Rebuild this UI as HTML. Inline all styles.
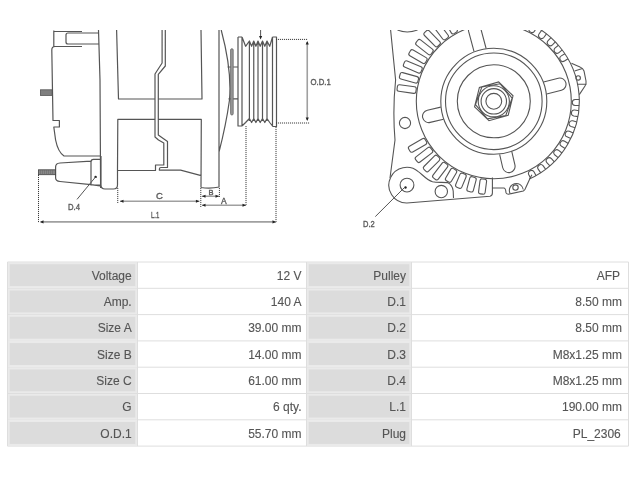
<!DOCTYPE html>
<html><head><meta charset="utf-8"><style>
html,body{margin:0;padding:0;background:#fff;width:640px;height:480px;overflow:hidden;position:relative}
</style></head><body>
<svg width="640" height="480" viewBox="0 0 640 480" style="position:absolute;left:0;top:0;will-change:transform"><g font-family="Liberation Sans, sans-serif" font-size="12" fill="#555"><rect x="8.00" y="262.50" width="129.00" height="25.30" fill="#eaeaea"/><rect x="9.70" y="264.20" width="125.60" height="21.90" fill="#dcdcdc"/><rect x="307.00" y="262.50" width="104.00" height="25.30" fill="#eaeaea"/><rect x="308.70" y="264.20" width="100.60" height="21.90" fill="#dcdcdc"/><rect x="8.00" y="288.80" width="129.00" height="25.30" fill="#eaeaea"/><rect x="9.70" y="290.50" width="125.60" height="21.90" fill="#dcdcdc"/><rect x="307.00" y="288.80" width="104.00" height="25.30" fill="#eaeaea"/><rect x="308.70" y="290.50" width="100.60" height="21.90" fill="#dcdcdc"/><rect x="8.00" y="315.10" width="129.00" height="25.30" fill="#eaeaea"/><rect x="9.70" y="316.80" width="125.60" height="21.90" fill="#dcdcdc"/><rect x="307.00" y="315.10" width="104.00" height="25.30" fill="#eaeaea"/><rect x="308.70" y="316.80" width="100.60" height="21.90" fill="#dcdcdc"/><rect x="8.00" y="341.40" width="129.00" height="25.30" fill="#eaeaea"/><rect x="9.70" y="343.10" width="125.60" height="21.90" fill="#dcdcdc"/><rect x="307.00" y="341.40" width="104.00" height="25.30" fill="#eaeaea"/><rect x="308.70" y="343.10" width="100.60" height="21.90" fill="#dcdcdc"/><rect x="8.00" y="367.70" width="129.00" height="25.30" fill="#eaeaea"/><rect x="9.70" y="369.40" width="125.60" height="21.90" fill="#dcdcdc"/><rect x="307.00" y="367.70" width="104.00" height="25.30" fill="#eaeaea"/><rect x="308.70" y="369.40" width="100.60" height="21.90" fill="#dcdcdc"/><rect x="8.00" y="394.00" width="129.00" height="25.30" fill="#eaeaea"/><rect x="9.70" y="395.70" width="125.60" height="21.90" fill="#dcdcdc"/><rect x="307.00" y="394.00" width="104.00" height="25.30" fill="#eaeaea"/><rect x="308.70" y="395.70" width="100.60" height="21.90" fill="#dcdcdc"/><rect x="8.00" y="420.30" width="129.00" height="25.30" fill="#eaeaea"/><rect x="9.70" y="422.00" width="125.60" height="21.90" fill="#dcdcdc"/><rect x="307.00" y="420.30" width="104.00" height="25.30" fill="#eaeaea"/><rect x="308.70" y="422.00" width="100.60" height="21.90" fill="#dcdcdc"/><path d="M7.5,262.0 V446.10 M137.5,262.0 V446.10 M306.5,262.0 V446.10 M411.5,262.0 V446.10 M628.5,262.0 V446.10 M7.5,262.00 H628.5 M7.5,288.30 H628.5 M7.5,314.60 H628.5 M7.5,340.90 H628.5 M7.5,367.20 H628.5 M7.5,393.50 H628.5 M7.5,419.80 H628.5 M7.5,446.10 H628.5" stroke="#dedede" stroke-width="1" fill="none"/><text x="131.7" y="279.80" text-anchor="end" stroke="#555" stroke-width="0.12">Voltage</text><text x="301.5" y="279.80" text-anchor="end" stroke="#555" stroke-width="0.12">12 V</text><text x="406" y="279.80" text-anchor="end" stroke="#555" stroke-width="0.12">Pulley</text><text x="620" y="279.80" text-anchor="end" stroke="#555" stroke-width="0.12">AFP</text><text x="131.7" y="306.10" text-anchor="end" stroke="#555" stroke-width="0.12">Amp.</text><text x="301.5" y="306.10" text-anchor="end" stroke="#555" stroke-width="0.12">140 A</text><text x="406" y="306.10" text-anchor="end" stroke="#555" stroke-width="0.12">D.1</text><text x="622" y="306.10" text-anchor="end" stroke="#555" stroke-width="0.12">8.50 mm</text><text x="131.7" y="332.40" text-anchor="end" stroke="#555" stroke-width="0.12">Size A</text><text x="301.5" y="332.40" text-anchor="end" stroke="#555" stroke-width="0.12">39.00 mm</text><text x="406" y="332.40" text-anchor="end" stroke="#555" stroke-width="0.12">D.2</text><text x="622" y="332.40" text-anchor="end" stroke="#555" stroke-width="0.12">8.50 mm</text><text x="131.7" y="358.70" text-anchor="end" stroke="#555" stroke-width="0.12">Size B</text><text x="301.5" y="358.70" text-anchor="end" stroke="#555" stroke-width="0.12">14.00 mm</text><text x="406" y="358.70" text-anchor="end" stroke="#555" stroke-width="0.12">D.3</text><text x="622" y="358.70" text-anchor="end" stroke="#555" stroke-width="0.12">M8x1.25 mm</text><text x="131.7" y="385.00" text-anchor="end" stroke="#555" stroke-width="0.12">Size C</text><text x="301.5" y="385.00" text-anchor="end" stroke="#555" stroke-width="0.12">61.00 mm</text><text x="406" y="385.00" text-anchor="end" stroke="#555" stroke-width="0.12">D.4</text><text x="622" y="385.00" text-anchor="end" stroke="#555" stroke-width="0.12">M8x1.25 mm</text><text x="131.7" y="411.30" text-anchor="end" stroke="#555" stroke-width="0.12">G</text><text x="301.5" y="411.30" text-anchor="end" stroke="#555" stroke-width="0.12">6 qty.</text><text x="406" y="411.30" text-anchor="end" stroke="#555" stroke-width="0.12">L.1</text><text x="622" y="411.30" text-anchor="end" stroke="#555" stroke-width="0.12">190.00 mm</text><text x="131.7" y="437.60" text-anchor="end" stroke="#555" stroke-width="0.12">O.D.1</text><text x="301.5" y="437.60" text-anchor="end" stroke="#555" stroke-width="0.12">55.70 mm</text><text x="406" y="437.60" text-anchor="end" stroke="#555" stroke-width="0.12">Plug</text><text x="620.8" y="437.60" text-anchor="end" stroke="#555" stroke-width="0.12">PL_2306</text></g></svg>
<svg width="640" height="250" viewBox="0 0 640 250" style="position:absolute;left:0;top:0;will-change:transform"><defs><clipPath id="cp"><rect x="0" y="30" width="640" height="220"/></clipPath><clipPath id="cpb"><path d="M380,100 H560 V183 L492.5,189.5 L400,199 Z"/></clipPath></defs><g clip-path="url(#cp)"><path d="M53.8,30.5 V46.5 M53.8,31.5 H82 M99,33 H68 Q66,33 66,35 V42 Q66,44 68,44 H99 M98.5,30 L100,80 L100.6,188 M82,46.5 H55 Q51.8,46.5 51.8,50 L53,120.5 H59.4 V127 H53.8 L55.6,140 Q58,152 64,156 H100 M91,161.2 L60,163 Q55.6,163.3 55.6,167 V178 Q55.6,181 60,181.5 L91,184.6 M100,159.4 H93.5 Q91,159.4 91,162 V185 H100 M91,184.6 L100,185.8 M101,156 V185 Q101,189 105,189 H113.5 Q117.5,189 117.5,185 V170.5 M116.6,30 L118.5,99 H155 M158,99 H202 L201,30 M155,119.4 H117.8 L117.5,170.5 H155.5 V165 H163.8 V143 L158.5,140 L155,137 V74 L162.1,63 V30 M158,119.4 H201.3 L201,187.5 M165.3,30 V66 L158.3,74.4 V135 L167.5,141.5 V167.5 H161 Q159.4,167.5 159.4,169 V170.2 H180.6 L201.2,175.6 M201,187.5 Q210,189 219.4,187 M219,30 L219,187 M221.2,30 Q232,70 229.5,100 Q226,125 219,152 M227.5,67 H238 M228.5,98.8 H238 M238,37 V126 H242 M238,37 H242 M272.5,37 H276.5 V126.5 H272.5 M242,37 V126 M272.5,37 V126.5 M249.4,42 V121 M253.75,42 V121 M258,42 V121 M262.5,42 V121 M267,42 V121 M242,37 L242,37 L245.6,46.3 L249.4,41 L251.6,46.3 L253.75,41 L255.9,46.3 L258,41 L260.2,46.3 L262.5,41 L264.8,46.3 L267,41 L269.7,46.3 L272.5,37  M242,126 L242,126 L245.6,122.5 L249.4,118.5 L251.6,122.5 L253.75,118.5 L255.9,122.5 L258,118.5 L260.2,122.5 L262.5,118.5 L264.8,122.5 L267,118.5 L269.7,122.5 L272.5,126 " fill="none" stroke="#555" stroke-width="1.2" stroke-linejoin="round"/><rect x="230.6" y="48.7" width="2.6" height="66.3" rx="1.3" fill="#999" stroke="#666" stroke-width="0.8"/><rect x="40.4" y="89.8" width="11.6" height="5.6" fill="#888" stroke="#555" stroke-width="0.8"/><path d="M42,90 V95.4 M44,90 V95.4 M46,90 V95.4 M48,90 V95.4 M50,90 V95.4" stroke="#666" stroke-width="0.5"/><rect x="38.4" y="169.8" width="17.2" height="4.9" fill="#888" stroke="#444" stroke-width="0.8"/><path d="M40.5,170 V174.5 M42.5,170 V174.5 M44.5,170 V174.5 M46.5,170 V174.5 M48.5,170 V174.5 M50.5,170 V174.5 M52.5,170 V174.5" stroke="#666" stroke-width="0.5"/><circle cx="95.6" cy="176.9" r="1.2" fill="#222"/><path d="M95.6,176.9 L77,199.4" stroke="#555" stroke-width="1"/><path d="M38.5,175 V223 M117.75,188 V203 M200.8,188 V207 M219.4,188 V197 M246,126 V206 M276,127 V223 M276,39.4 H307.5 M276,123 H309.5" stroke="#3a3a3a" stroke-width="1" stroke-dasharray="1.1,0.9" fill="none"/><path d="M40.6,221.9 H276 M120,201.25 H199.4 M202,196.25 H219 M202,205.25 H246 M307.25,42 V120" stroke="#a0a0a0" stroke-width="1.6" fill="none"/><path d="M260.6,30 V36" stroke="#555" stroke-width="1"/><path d="M40.00,221.90 L43.50,220.33 L43.50,223.47Z M120.00,201.25 L123.50,199.68 L123.50,202.82Z M199.40,201.25 L195.90,202.82 L195.90,199.68Z M202.00,196.25 L205.50,194.68 L205.50,197.82Z M219.00,196.25 L215.50,197.82 L215.50,194.68Z M202.00,205.25 L205.50,203.68 L205.50,206.82Z M246.00,205.25 L242.50,206.82 L242.50,203.68Z M276.00,221.90 L272.50,223.47 L272.50,220.33Z M307.25,41.00 L308.82,44.50 L305.68,44.50Z M307.25,121.00 L305.68,117.50 L308.82,117.50Z M260.60,39.50 L259.03,36.00 L262.18,36.00Z" fill="#222"/><text x="68" y="209.7" font-family="Liberation Sans, sans-serif" fill="#5a5a5a" stroke="#5a5a5a" stroke-width="0.35" font-size="9" textLength="12" lengthAdjust="spacingAndGlyphs">D.4</text><text x="156" y="198.8" font-family="Liberation Sans, sans-serif" fill="#5a5a5a" stroke="#5a5a5a" stroke-width="0.35" font-size="9.5">C</text><text x="151" y="217.5" font-family="Liberation Sans, sans-serif" fill="#5a5a5a" stroke="#5a5a5a" stroke-width="0.35" font-size="9" textLength="8.4" lengthAdjust="spacingAndGlyphs">L.1</text><text x="208.5" y="195" font-family="Liberation Sans, sans-serif" fill="#5a5a5a" stroke="#5a5a5a" stroke-width="0.35" font-size="7.5">B</text><text x="221" y="203.8" font-family="Liberation Sans, sans-serif" fill="#5a5a5a" stroke="#5a5a5a" stroke-width="0.35" font-size="8.5">A</text><text x="310.5" y="84.7" font-family="Liberation Sans, sans-serif" fill="#5a5a5a" stroke="#5a5a5a" stroke-width="0.35" font-size="9" textLength="20.3" lengthAdjust="spacingAndGlyphs">O.D.1</text><text x="363" y="227" font-family="Liberation Sans, sans-serif" fill="#5a5a5a" stroke="#5a5a5a" stroke-width="0.35" font-size="9" textLength="11.7" lengthAdjust="spacingAndGlyphs">D.2</text><g fill="none" stroke="#555" stroke-width="1.1"><circle cx="493.80" cy="101.30" r="7.9"/><circle cx="493.80" cy="101.30" r="12.7"/><circle cx="493.80" cy="101.30" r="15.6"/><circle cx="493.80" cy="101.30" r="36.5"/><circle cx="493.80" cy="101.30" r="48.3"/><circle cx="493.80" cy="101.30" r="53"/><path d="M498.64,81.89 L513.03,95.79 L508.19,115.19 L488.96,120.71 L474.57,106.81 L479.41,87.41Z M500.16,83.82 L512.12,98.07 L505.76,115.55 L487.44,118.78 L475.48,104.53 L481.84,87.05Z"/><circle cx="493.80" cy="101.30" r="77.5"/><path d="M486.12,48.49 L480.75,28.45 A6.25,6.25 0 0 0 468.68,31.68 L474.05,51.72 M546.68,94.08 L561.44,90.26 A6.25,6.25 0 0 0 558.31,78.16 L543.55,81.98 M440.75,107.13 L427.35,110.23 A6.25,6.25 0 0 0 430.17,122.41 L443.56,119.31 M499.63,154.35 L502.73,167.75 A6.25,6.25 0 0 0 514.91,164.93 L511.81,151.54"/><rect x="78.5" y="-3.3" width="19.0" height="6.6" rx="2" transform="translate(493.80,101.30) rotate(-172)"/><rect x="78.5" y="-3.3" width="19.0" height="6.6" rx="2" transform="translate(493.80,101.30) rotate(-164.5)"/><rect x="78.5" y="-3.3" width="19.0" height="6.6" rx="2" transform="translate(493.80,101.30) rotate(-157)"/><rect x="78.5" y="-3.3" width="19.0" height="6.6" rx="2" transform="translate(493.80,101.30) rotate(-149.5)"/><rect x="78.5" y="-3.3" width="19.0" height="6.6" rx="2" transform="translate(493.80,101.30) rotate(-142)"/><rect x="78.5" y="-3.3" width="19.0" height="6.6" rx="2" transform="translate(493.80,101.30) rotate(-134.5)"/><rect x="78.5" y="-3.3" width="19.0" height="6.6" rx="2" transform="translate(493.80,101.30) rotate(-127)"/><rect x="78.5" y="-3.3" width="19.0" height="6.6" rx="2" transform="translate(493.80,101.30) rotate(-119.5)"/><rect x="78.5" y="-3.3" width="19.0" height="6.6" rx="2" transform="translate(493.80,101.30) rotate(-112)"/><rect x="78.5" y="-3.3" width="19.0" height="6.6" rx="2" transform="translate(493.80,101.30) rotate(-104.5)"/><rect x="78.5" y="-3.3" width="19.0" height="6.6" rx="2" transform="translate(493.80,101.30) rotate(150)"/><rect x="78.5" y="-3.3" width="19.0" height="6.6" rx="2" transform="translate(493.80,101.30) rotate(142.5)"/><rect x="78.5" y="-3.3" width="19.0" height="6.6" rx="2" transform="translate(493.80,101.30) rotate(135)"/><rect x="78.5" y="-3.3" width="19.0" height="6.6" rx="2" transform="translate(493.80,101.30) rotate(127.5)"/><rect x="78.5" y="-3.3" width="14.0" height="6.6" rx="2" transform="translate(493.80,101.30) rotate(120)"/><rect x="78.5" y="-3.3" width="15.0" height="6.6" rx="2" transform="translate(493.80,101.30) rotate(112.5)"/><rect x="78.5" y="-3.3" width="15.0" height="6.6" rx="2" transform="translate(493.80,101.30) rotate(105)"/><rect x="78.5" y="-3.3" width="15.0" height="6.6" rx="2" transform="translate(493.80,101.30) rotate(97.5)"/><path d="M536.59,27.22 L534.62,30.92 A3.0,3.0 0 0 1 529.32,28.11 L531.29,24.40 M546.48,33.89 L544.01,37.29 A3.0,3.0 0 0 1 539.16,33.76 L541.63,30.37 M555.35,41.88 L552.43,44.90 A3.0,3.0 0 0 1 548.12,40.73 L551.04,37.71 M562.22,49.94 L558.96,52.58 A3.0,3.0 0 0 1 555.19,47.91 L558.46,45.27 M568.05,58.79 L564.48,61.01 A3.0,3.0 0 0 1 561.32,55.91 L564.88,53.70 M579.25,105.49 L575.05,105.43 A3.0,3.0 0 0 1 575.13,99.44 L579.33,99.49 M577.97,116.61 L573.82,116.00 A3.0,3.0 0 0 1 574.68,110.07 L578.84,110.67 M575.16,127.75 L571.12,126.59 A3.0,3.0 0 0 1 572.78,120.83 L576.81,121.98 M570.82,138.55 L566.98,136.85 A3.0,3.0 0 0 1 569.40,131.36 L573.24,133.06 M565.13,148.53 L561.55,146.34 A3.0,3.0 0 0 1 564.69,141.22 L568.27,143.42 M558.16,157.66 L554.91,155.01 A3.0,3.0 0 0 1 558.70,150.36 L561.95,153.01 M549.92,165.88 L547.05,162.81 A3.0,3.0 0 0 1 551.44,158.71 L554.30,161.78 M540.76,172.81 L538.33,169.39 A3.0,3.0 0 0 1 543.23,165.92 L545.66,169.35 M530.75,178.46 L528.81,174.74 A3.0,3.0 0 0 1 534.12,171.96 L536.07,175.68"/><path d="M515.93,18.71 A85.5,85.5 0 0 1 529.26,179.10"/><path d="M571.5,63.3 Q575,65 580,67 Q583,68 584,71 L586,81 Q586.5,84 585,86 L579.3,94.6 M574.6,71 L582.4,68.5 M577.2,84.2 H586.6"/><circle cx="578.20" cy="77.90" r="2.2"/><path d="M390.6,30 L395.6,80 Q392.5,110 395,140 L390,178"/><path d="M390.6,177.5 A17.8,17.8 0 0 0 406.9,203 L490,196.2 Q492.4,195.8 492.4,193 V177.5 M492.8,188 H504.1 Q505.3,188.5 505.6,190 L506,192.7 Q506.8,194.2 508.4,194.2 L523.3,191 Q525.2,190 525.6,188 L530.3,177.8 L531.9,174.7"/><path d="M510,193.4 A7,7 0 1 1 523.3,189.5"/><circle cx="515.50" cy="187.60" r="2.7"/><path d="M390.6,177.5 A17.8,17.8 0 0 1 418.3,171.6 C422,174 426.5,180 432.5,181.8 C437,182.8 443,182 447.5,182.6 Q452.5,185 453.2,191 L453.5,198"/><circle cx="407.00" cy="185.10" r="6.9"/><circle cx="441.30" cy="191.60" r="6.2"/><circle cx="405.00" cy="123.00" r="5.6"/><path d="M397.5,30 Q407,34 417.5,30"/></g><circle cx="405.5" cy="187.5" r="1.2" fill="#222"/><path d="M405,187 L375.3,216.6" stroke="#555" stroke-width="1"/></g></svg>
</body></html>
